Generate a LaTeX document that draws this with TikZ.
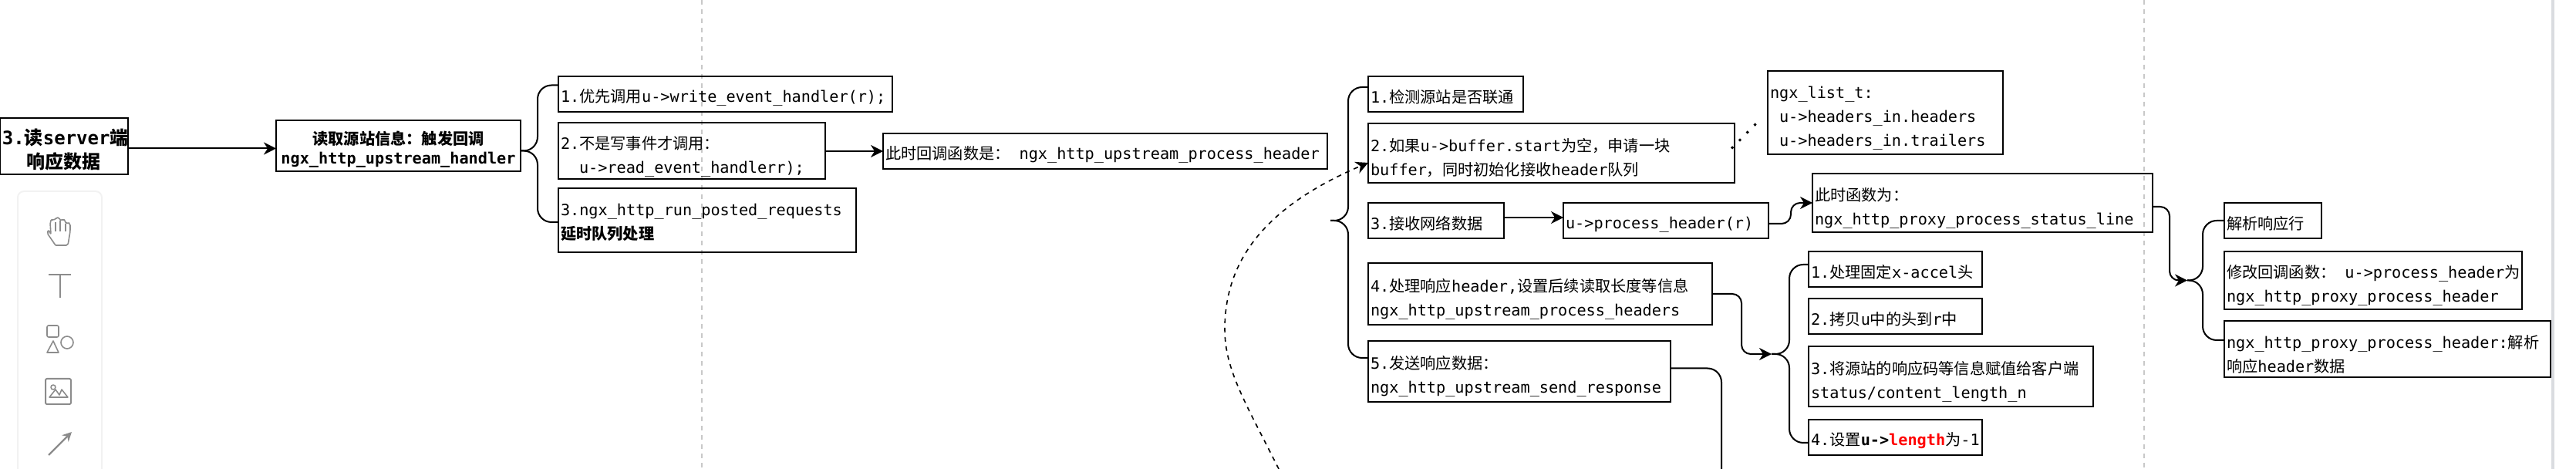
\documentclass[tikz,border=0pt]{standalone}
\usepackage{fontspec}
\setmonofont{DejaVu Sans Mono}
\newfontfamily\cjkfont{Noto Sans CJK SC}
\newcommand{\zh}[1]{{\cjkfont #1}}
\usepackage{xcolor}
\usetikzlibrary{arrows.meta,positioning}
\definecolor{guide}{HTML}{C8C8C8}
\definecolor{strip}{HTML}{DADCE0}
\definecolor{panel}{HTML}{F2F2F2}
\definecolor{toolgray}{HTML}{8C8C8C}
\tikzset{
 lift/.store in=\boxlift,
 box/.style={draw=black,line width=1pt,outer sep=0pt,inner xsep=1.5pt,inner ysep=0pt,align=left,
   lift=15pt,execute at begin node={\rule{0pt}{\boxlift}},
   font=\fontsize{10.1}{15.5}\selectfont\ttfamily},
 onebox/.style={box,minimum height=23pt,lift=12.5pt},
 headbox/.style={box,align=center,font=\fontsize{12}{15.5}\selectfont\ttfamily\bfseries},
 arrow/.style={-{Stealth[length=8pt,width=8pt,inset=2.5pt]},line width=1pt,draw=black},
 curvearrow/.style={arrow,rounded corners=6pt},
 fork/.style={line width=1pt,draw=black,rounded corners=9pt},
 guideline/.style={draw=guide,line width=1.1pt,dash pattern=on 3pt off 3pt},
 tool/.style={draw=toolgray,line width=.8pt,line join=round}
}
\begin{document}
\begin{tikzpicture}[x=1pt,y=-1pt]
 \useasboundingbox (0,0) rectangle (1670,304);
 \draw[guideline] (455,0)--(455,304);
 \draw[guideline] (1390,0)--(1390,304);
 \fill[strip] (1654,0) rectangle (1656,304);
 \draw[panel,line width=1pt,rounded corners=4pt] (11.5,310)--(11.5,124)--(66,124)--(66,310);
 \draw[tool,rounded corners=1pt] (36,159)--(44,159)--(45.5,150)--(45.5,145)--(44,144)--(42.5,145)--(42.5,143)--(41,142)--(39,143)--(38.5,141)--(36.5,141)--(35,143)--(33.5,142)--(32.5,144)--(33,152)--(31.5,149)--(30.5,151)--(36,159);
 \draw[tool] (36,144)--(36,150) (39,143)--(39,150) (42.5,145)--(42.5,150);
 \draw[tool,line width=1pt] (31.5,178)--(46,178) (39,178)--(39,193);
 \draw[tool,rounded corners=1pt] (30.5,211) rectangle (38,218.5);
 \draw[tool] (34.5,221)--(30.5,228.5)--(38,228.5)--cycle;
 \draw[tool] (43.5,222) circle[radius=4];
 \draw[tool,line width=1pt,rounded corners=1pt] (29.5,245.5) rectangle (46,262);
 \draw[tool] (34.5,251) circle[radius=1.5];
 \draw[tool] (32,257.5)--(36,252.5)--(38.5,256)--(40,252.5)--(44,257.5)--cycle;
 \draw[-{Stealth[length=6pt,width=6pt]},draw=toolgray,line width=1.2pt] (31.5,295)--(46.5,280);

 \node[headbox,anchor=north west,text width=80pt,minimum height=36.5pt] (readresp) at (0,76.5) {3.\zh{读}server\zh{端}\\\zh{响应数据}};
 \node[headbox,right=96pt of readresp,text width=155.5pt,minimum height=33pt,lift=13pt,font=\fontsize{10.1}{12.5}\selectfont\ttfamily\bfseries] (readinfo) {\zh{读取源站信息：触发回调}\\ngx\_http\_upstream\_handler};
 \node[box,right=24.5pt of readinfo.east,anchor=west,yshift=-3.25pt,text width=170pt,minimum height=36.5pt] (readevent) {2.\zh{不是写事件才调用：}\\\hspace*{12pt}u->read\_event\_handlerr);};
 \node[onebox,above=7pt of readevent.north west,anchor=south west,text width=213.5pt] (writeevent) {1.\zh{优先调用}u->write\_event\_handler(r);};
 \node[box,below=6pt of readevent.south west,anchor=north west,text width=190pt,minimum height=41.5pt,lift=10pt] (posted) {3.ngx\_http\_run\_posted\_requests\\{\bfseries\zh{延时队列处理}}};
 \node[onebox,right=37.5pt of readevent,text width=285pt] (upheader) {\zh{此时回调函数是：}\hspace*{6pt}ngx\_http\_upstream\_process\_header};

 \node[onebox,below right=22pt and 26.5pt of upheader.south east,text width=85pt] (recvnet) {3.\zh{接收网络数据}};
 \node[box,above=13pt of recvnet.north west,anchor=south west,text width=234.5pt,minimum height=38.5pt] (bufinit) {2.\zh{如果}u->buffer.start\zh{为空，申请一块}\\buffer\zh{，同时初始化接收}header\zh{队列}};
 \node[onebox,above=7.5pt of bufinit.north west,anchor=south west,text width=97.5pt] (linkcheck) {1.\zh{检测源站是否联通}};
 \node[onebox,right=38.5pt of recvnet,text width=130pt] (prochdr) {u->process\_header(r)};
 \node[box,below=16pt of recvnet.south west,anchor=north west,text width=220pt,minimum height=40pt] (dohdrs) {4.\zh{处理响应}header,\zh{设置后续读取长度等信息}\\ngx\_http\_upstream\_process\_headers};
 \node[box,below=10.5pt of dohdrs.south west,anchor=north west,text width=193pt,minimum height=39.5pt] (sendresp) {5.\zh{发送响应数据：}\\ngx\_http\_upstream\_send\_response};
 \node[box,right=21.5pt of bufinit.north east,anchor=west,yshift=7pt,text width=149.5pt,minimum height=54pt] (hdrlist) {ngx\_list\_t:\\\hspace*{6pt}u->headers\_in.headers\\\hspace*{6pt}u->headers\_in.trailers};
 \node[box,right=28.5pt of prochdr.north east,anchor=west,text width=217.5pt,minimum height=38pt] (statusline) {\zh{此时函数为：}\\ngx\_http\_proxy\_process\_status\_line};

 \node[onebox,below=12.5pt of statusline.south west,anchor=north west,xshift=-2.5pt,text width=109.5pt] (accel) {1.\zh{处理固定}x-accel\zh{头}};
 \node[onebox,below=7.5pt of accel.south west,anchor=north west,text width=109.5pt] (copyhdr) {2.\zh{拷贝}u\zh{中的头到}r\zh{中}};
 \node[box,below=8pt of copyhdr.south west,anchor=north west,text width=181.5pt,minimum height=39pt] (setcode) {3.\zh{将源站的响应码等信息赋值给客户端}\\status/content\_length\_n};
 \node[onebox,below=8.5pt of setcode.south west,anchor=north west,text width=109.5pt] (setlen) {4.\zh{设置}{\bfseries u->\textcolor{red}{length}}\zh{为}-1};

 \node[onebox,right=46.5pt of statusline.east,anchor=west,yshift=-11.5pt,text width=60pt] (parseline) {\zh{解析响应行}};
 \node[box,below=8.5pt of parseline.south west,anchor=north west,text width=190pt,minimum height=37.5pt] (swapcb) {\zh{修改回调函数：}\hspace*{6pt}u->process\_header\zh{为}\\ngx\_http\_proxy\_process\_header};
 \node[box,below=7.5pt of swapcb.south west,anchor=north west,text width=208.5pt,minimum height=36.5pt] (parsehdr) {ngx\_http\_proxy\_process\_header:\zh{解析}\\\zh{响应}header\zh{数据}};

 \coordinate[left=24.5pt of recvnet.west] (forkmain);
 \coordinate[left=24pt of setcode.west,yshift=14.5pt] (forkhdrs);
 \coordinate[left=24pt of swapcb.west] (forkparse);
 \coordinate (loopend) at (829,304);
 \coordinate (sendend) at (1116,304);

 \draw[arrow] ([yshift=-1.5pt]readresp.east)--([yshift=-1.5pt]readinfo.west);
 \draw[arrow] (readevent.east)--(upheader.west);
 \draw[arrow] ([yshift=2pt]recvnet.east)--([yshift=2pt]prochdr.west);
 \draw[fork] ([yshift=-3pt]readinfo.east) -| ([xshift=-13.5pt,yshift=6pt]writeevent.west)--([yshift=6pt]writeevent.west);
 \draw[fork] ([yshift=-3pt]readinfo.east) -| ([xshift=-13.5pt,yshift=-1pt]posted.west)--([yshift=-1pt]posted.west);
 \draw[fork] (forkmain) -| ([xshift=-13pt,yshift=4.5pt]linkcheck.west)--([yshift=4.5pt]linkcheck.west);
 \draw[fork] (forkmain) -| ([xshift=-13pt,yshift=8.75pt]sendresp.west)--([yshift=8.75pt]sendresp.west);
 \draw[fork] (forkhdrs) -| ([xshift=-12.5pt,yshift=3pt]accel.west)--([yshift=3pt]accel.west);
 \draw[fork] (forkhdrs) -| ([xshift=-12.5pt,yshift=-3.5pt]setlen.west)--([yshift=-3.5pt]setlen.west);
 \draw[fork] (forkparse) -| ([xshift=-14pt]parseline.west)--(parseline.west);
 \draw[fork] (forkparse) -| ([xshift=-14pt,yshift=5.75pt]parsehdr.west)--([yshift=5.75pt]parsehdr.west);
 \draw[curvearrow] ([yshift=-2pt]prochdr.east) -| ([xshift=-14pt]statusline.west)--(statusline.west);
 \draw[curvearrow] (dohdrs.east) -| ([xshift=-19.5pt]forkhdrs)--(forkhdrs);
 \draw[curvearrow] ([yshift=-2.5pt]statusline.east) -| ([xshift=-11.5pt]forkparse)--(forkparse);
 \draw[fork] ([yshift=2pt]sendresp.east) -| (sendend);
 \draw[arrow,line width=.8pt,dash pattern=on 3pt off 3pt] (loopend) .. controls (808,262) and (794,240) .. (794,213.5) .. controls (794,165) and (825,132) .. ([yshift=-6.25pt]bufinit.west);
 \draw[line width=1.5pt,dash pattern=on 1.5pt off 5.5pt] ([xshift=-2pt,yshift=3pt]bufinit.east)--([xshift=-4pt,yshift=-3.5pt]hdrlist.west);
\end{tikzpicture}
\end{document}
